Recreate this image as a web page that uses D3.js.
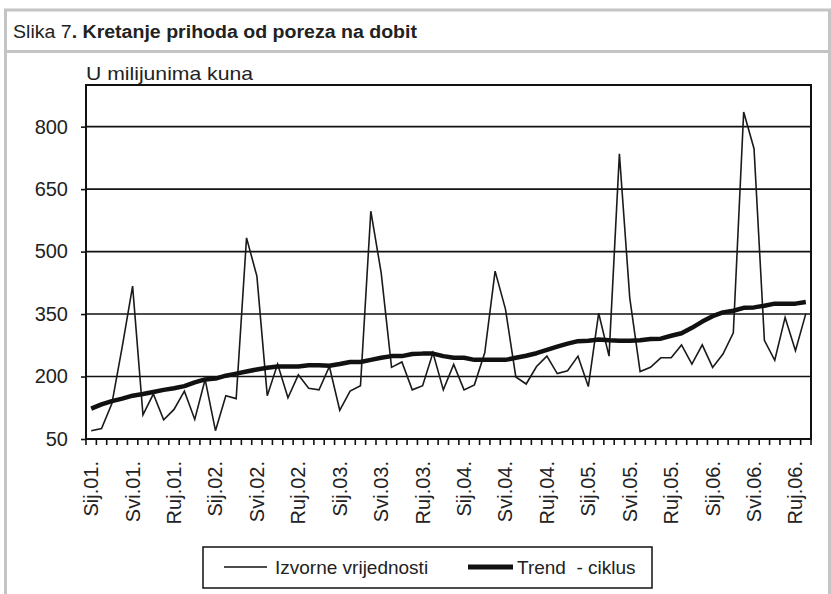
<!DOCTYPE html>
<html>
<head>
<meta charset="utf-8">
<script src="https://cdn.jsdelivr.net/npm/d3@7"></script>
<style>
  body { margin: 0; background: #fff; }
  text { font-family: "Liberation Sans", Arial, sans-serif; fill: #222; }
</style>
</head>
<body>
<div id="chart"></div>
<script>
// month abbreviations (hr) and years shown on the axis
var monthNames = ['Sij', 'Velj', 'Ožu', 'Tra', 'Svi', 'Lip', 'Srp', 'Kol', 'Ruj', 'Lis', 'Stu', 'Pro'];
var years = ['01', '02', '03', '04', '05', '06'];
var nMonths = 70; // Sij.01. .. Lis.06.

// Izvorne vrijednosti (u mil. kuna)
var izvorne = [70, 75, 135, 272, 417, 108, 158, 96, 121, 165, 97, 193,
  70, 154, 147, 533, 441, 154, 230, 149, 204, 172, 168, 224,
  119, 165, 178, 597, 449, 222, 235, 168, 178, 257, 168, 229,
  168, 180, 257, 453, 362, 199, 182, 224, 249, 207, 214, 249,
  176, 352, 249, 735, 389, 212, 222, 245, 245, 276, 230, 276,
  222, 254, 305, 835, 747, 287, 239, 342, 262, 351];

// Trend - ciklus
var trend = [123, 133, 141, 147, 154, 158, 163, 168, 172, 177, 186, 193,
  195, 202, 207, 212, 217, 221, 224, 224, 224, 227, 227, 226,
  230, 235, 235, 240, 245, 249, 249, 254, 255, 255, 249, 245,
  245, 240, 240, 240, 240, 245, 250, 256, 264, 272, 279, 285,
  286, 289, 287, 286, 286, 287, 290, 291, 298, 304, 317, 332,
  345, 354, 358, 365, 366, 370, 375, 375, 375, 379];

var yTicks = [50, 200, 350, 500, 650, 800];
var yMax = 900;

var categories = [];
for (var i = 0; i < nMonths; i++) {
  categories.push(monthNames[i % 12] + '.' + years[Math.floor(i / 12)] + '.');
}

var W = 831, H = 594;
var svg = d3.select('#chart').append('svg')
  .attr('width', W).attr('height', H);

// outer gray frame
var frame = '#c4c4c4';
svg.append('line').attr('x1', 4).attr('x2', W).attr('y1', 10).attr('y2', 10)
  .style('stroke', frame).style('stroke-width', 3);
svg.append('line').attr('x1', 5.5).attr('x2', 5.5).attr('y1', 9).attr('y2', H)
  .style('stroke', frame).style('stroke-width', 3);
svg.append('line').attr('x1', 829.5).attr('x2', 829.5).attr('y1', 9).attr('y2', H)
  .style('stroke', frame).style('stroke-width', 3);
svg.append('line').attr('x1', 5).attr('x2', W).attr('y1', 51.5).attr('y2', 51.5)
  .style('stroke', frame).style('stroke-width', 3);

// title
var title = svg.append('text')
  .attr('x', 13).attr('y', 38)
  .attr('textLength', 404).attr('lengthAdjust', 'spacingAndGlyphs')
  .style('font-size', '18px');
title.append('tspan').text('Slika 7');
title.append('tspan').style('font-weight', 'bold').text('. Kretanje prihoda od poreza na dobit');

svg.append('text').text('U milijunima kuna')
  .attr('x', 86).attr('y', 80)
  .attr('textLength', 167).attr('lengthAdjust', 'spacingAndGlyphs')
  .style('font-size', '19px');

// plot area
var pLeft = 86, pRight = 811, pTop = 85, pBottom = 439;

var x = d3.scaleBand().domain(d3.range(nMonths)).range([pLeft, pRight]).padding(0);
var y = d3.scaleLinear().domain([yTicks[0], yMax]).range([pBottom, pTop]);

// gridlines
svg.append('g').selectAll('line')
  .data(yTicks.slice(1))
  .join('line')
  .attr('x1', pLeft).attr('x2', pRight)
  .attr('y1', function(d) { return y(d); })
  .attr('y2', function(d) { return y(d); })
  .style('stroke', '#111').style('stroke-width', 1.6);

// y axis
var yAxis = svg.append('g')
  .attr('transform', 'translate(' + pLeft + ',0)')
  .call(d3.axisLeft(y).tickValues(yTicks).tickSize(5).tickPadding(13));
yAxis.select('.domain').remove();
yAxis.selectAll('.tick line').style('stroke', '#111').style('stroke-width', 1.6);
yAxis.selectAll('.tick text')
  .style('font-size', '20px').style('font-family', '"Liberation Sans", Arial, sans-serif')
  .attr('fill', '#222');

// x axis ticks at the category borders
svg.append('g').selectAll('line')
  .data(d3.range(nMonths + 1))
  .join('line')
  .attr('x1', function(d) { return pLeft + d * x.step(); })
  .attr('x2', function(d) { return pLeft + d * x.step(); })
  .attr('y1', pBottom).attr('y2', pBottom + 6)
  .style('stroke', '#111').style('stroke-width', 1.6);

// x labels every 4th month
svg.append('g').selectAll('text')
  .data(d3.range(0, nMonths, 4))
  .join('text')
  .attr('transform', function(d) {
    return 'translate(' + (x(d) + x.bandwidth() / 2) + ',' + 461 + ') rotate(-90)';
  })
  .attr('dy', '0.35em')
  .attr('text-anchor', 'end')
  .style('font-size', '20px')
  .text(function(d) { return categories[d]; });

// plot frame
svg.append('rect')
  .attr('x', pLeft).attr('y', pTop)
  .attr('width', pRight - pLeft).attr('height', pBottom - pTop)
  .style('fill', 'none').style('stroke', '#111').style('stroke-width', 2);

// series
var line = d3.line()
  .x(function(d, i) { return x(i) + x.bandwidth() / 2; })
  .y(function(d) { return y(d); });

svg.append('path').datum(izvorne)
  .attr('d', line)
  .style('fill', 'none').style('stroke', '#1a1a1a').style('stroke-width', 1.6)
  .style('stroke-linejoin', 'miter');

svg.append('path').datum(trend)
  .attr('d', line)
  .style('fill', 'none').style('stroke', '#111').style('stroke-width', 4.5)
  .style('stroke-linejoin', 'round');

// legend
var lg = svg.append('g');
lg.append('rect')
  .attr('x', 203).attr('y', 547).attr('width', 449).attr('height', 41)
  .style('fill', '#fff').style('stroke', '#111').style('stroke-width', 1.5);
lg.append('line').attr('x1', 224).attr('x2', 267).attr('y1', 567).attr('y2', 567)
  .style('stroke', '#111').style('stroke-width', 1.6);
lg.append('text').text('Izvorne vrijednosti')
  .attr('x', 275).attr('y', 574).style('font-size', '19px');
lg.append('line').attr('x1', 468).attr('x2', 513).attr('y1', 567).attr('y2', 567)
  .style('stroke', '#111').style('stroke-width', 5);
lg.append('text').text('Trend\u00a0 - ciklus')
  .attr('x', 517).attr('y', 574).style('font-size', '19px');
</script>
</body>
</html>
